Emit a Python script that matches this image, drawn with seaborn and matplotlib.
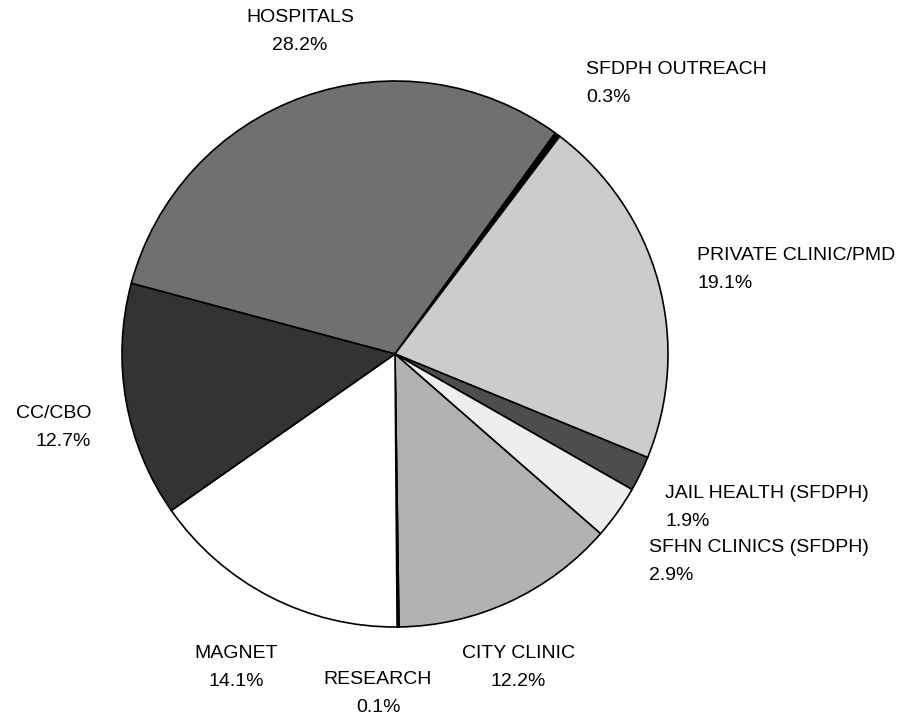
import matplotlib
matplotlib.use("Agg")
import matplotlib.pyplot as plt
import seaborn as sns

# ---- data ----
categories = ["HOSPITALS", "SFDPH OUTREACH", "PRIVATE CLINIC/PMD",
              "JAIL HEALTH (SFDPH)", "SFHN CLINICS (SFDPH)", "CITY CLINIC",
              "RESEARCH", "MAGNET", "CC/CBO"]
percent = [28.2, 0.3, 19.1, 1.9, 2.9, 12.2, 0.1, 14.1, 12.7]

# ---- styles ----
colors = ["#707070", "#000000", "#cccccc", "#4d4d4d", "#eeeeee",
          "#b2b2b2", "#000000", "#ffffff", "#333333"]

# label positions in pixel coords (y measured from top): (x, y_name, y_pct, ha)
label_pos = [
    (300, 18, 46, "center"),
    (586, 70, 98, "left"),
    (697, 255, 284, "left"),
    (665, 493, 521, "left"),
    (649, 547, 576, "left"),
    (518, 654, 681, "center"),
    (378, 679, 707, "center"),
    (236, 654, 681, "center"),
    (91, 414, 441, "right"),
]

sns.set_theme(style="white")
plt.rcParams['font.family'] = ['Liberation Sans', 'DejaVu Sans']

W, H = 905, 721
fig = plt.figure(figsize=(W / 100, H / 100), dpi=100)
ax = fig.add_axes([0, 0, 1, 1])

ax.pie(percent, colors=colors, startangle=165, counterclock=False,
       center=(395, H - 354), radius=273, frame=True,
       wedgeprops=dict(edgecolor="black", linewidth=1.2))

ax.set_xlim(0, W)
ax.set_ylim(0, H)
ax.set_aspect("equal")
ax.axis("off")

for name, val, (x, yn, yp, ha) in zip(categories, percent, label_pos):
    ax.text(x, H - yn, name, ha=ha, va="center", fontsize=14, color="black")
    ax.text(x, H - yp, f"{val:.1f}%", ha=ha, va="center", fontsize=14, color="black")

fig.savefig("out.png", dpi=100, facecolor="white")
